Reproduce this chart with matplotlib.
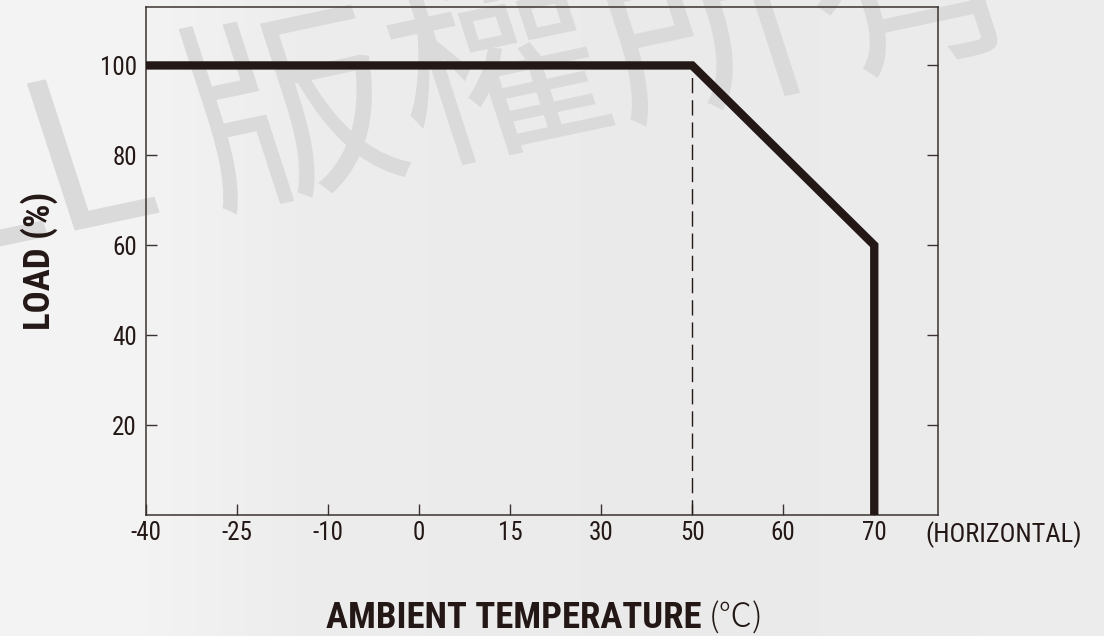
import numpy as np
import matplotlib.pyplot as plt
from matplotlib.textpath import TextPath, TextToPath
from matplotlib.patches import PathPatch
from matplotlib.font_manager import FontProperties
from matplotlib.transforms import Affine2D

# data
temp_ticks = [-40, -25, -10, 0, 15, 30, 50, 60, 70]
load_ticks = [20, 40, 60, 80, 100]
curve_temp = [-40, 50, 70, 70]
curve_load = [100, 100, 60, 0]
knee_temp = 50
knee_load = 100

ink = '#231815'
frame = '#3a3230'
narrow = ['Roboto Condensed', 'Archivo Narrow', 'DejaVu Sans']

W, H = 1104, 636
fig = plt.figure(figsize=(W / 100, H / 100), dpi=100)

# soft grey background
bg = fig.add_axes([0, 0, 1, 1], zorder=-2)
shade = np.interp(np.arange(W), [0, 140, 300, 700, 1104], [0.955, 0.95, 0.925, 0.915, 0.925])
bg.imshow(np.tile(shade, (2, 1)), cmap='gray', vmin=0, vmax=1, aspect='auto', extent=[0, 1, 0, 1])
bg.axis('off')

# watermark, drawn in pixel coordinates
wm_prop = FontProperties(family='Noto Sans CJK TC')
w_lead = TextToPath().get_text_width_height_descent('MEAN WEL', FontProperties(family='Noto Sans CJK TC', size=210), ismath=False)[0]
wm_path = TextPath((-w_lead, 0), 'MEAN WELL 版權所有', size=210, prop=wm_prop)
wm_tr = Affine2D().skew_deg(-6, 0).rotate_deg(12).translate(54, H - 235)
wm = PathPatch(wm_path, facecolor='#dadada', edgecolor='none', transform=wm_tr, zorder=1)
fig.add_artist(wm)

ax = fig.add_axes([146 / W, 1 - 515 / H, 792 / W, 508 / H], zorder=2)
ax.set_facecolor('none')

# tick positions are evenly spaced, not linear in temperature
pos_vals = temp_ticks + [80]
pos_idx = np.arange(len(pos_vals), dtype=float)


def fwd(x):
    return np.interp(x, pos_vals, pos_idx)


def inv(x):
    return np.interp(x, pos_idx, pos_vals)


ax.set_xscale('function', functions=(fwd, inv))
ax.set_xlim(-40, 77)
ax.set_ylim(0, 113)

ax.plot([knee_temp, knee_temp], [0, knee_load], color=ink, lw=1, dashes=(11, 5))
ax.plot(curve_temp, curve_load, color=ink, lw=6, solid_joinstyle='miter',
        solid_capstyle='butt', clip_on=False, zorder=3)

ax.set_xticks(temp_ticks)
ax.set_xticklabels([str(t) for t in temp_ticks])
ax.set_yticks(load_ticks)
ax.set_yticklabels([str(v) for v in load_ticks])
ax.minorticks_off()

ax.tick_params(direction='in', length=8, width=1, color=frame, labelcolor=ink, labelsize=18)
ax.tick_params(axis='x', pad=4.5)
ax.tick_params(axis='y', pad=6.5, right=True, labelright=False)
for lab in ax.get_xticklabels() + ax.get_yticklabels():
    lab.set_family(narrow)

for sp in ax.spines.values():
    sp.set_linewidth(1.1)
    sp.set_color(frame)

fig.text(925 / W, 1 - 542 / H, '(HORIZONTAL)', family=narrow, fontsize=19,
         color=ink, ha='left', va='baseline')
fig.text(702 / W, 8 / H, 'AMBIENT TEMPERATURE', family=narrow, fontsize=26.5,
         fontweight='bold', color=ink, ha='right', va='baseline')
fig.text(709 / W, 8 / H, '(℃)', family=['Noto Sans CJK JP', 'DejaVu Sans'], fontsize=24,
         fontweight='light', color=ink, ha='left', va='baseline')
fig.text(50 / W, 1 - 261 / H, 'LOAD (%)', family=narrow, fontsize=26.5, fontweight='bold',
         color=ink, rotation=90, rotation_mode='anchor', ha='center', va='baseline')

fig.savefig('out.png', dpi=100)
